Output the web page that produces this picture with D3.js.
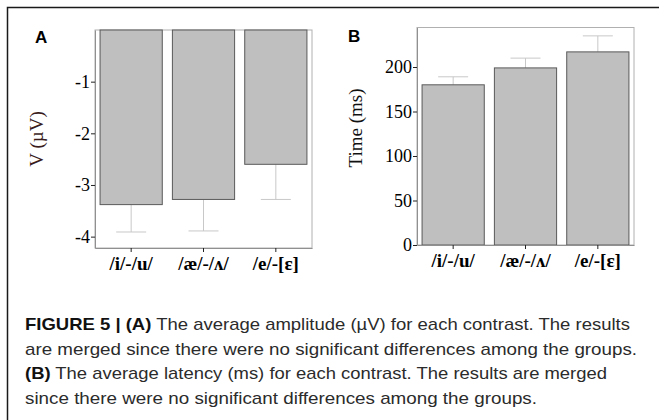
<!DOCTYPE html>
<html><head><meta charset="utf-8">
<script src="https://cdn.jsdelivr.net/npm/d3@7"></script>
<style>
html,body{margin:0;padding:0;background:#fff;}
svg{display:block;}
</style></head>
<body><svg id="c" width="659" height="420"></svg>
<script>
const categories = ["/i/-/u/", "/æ/-/ʌ/", "/e/-[ɛ]"];
const amplitude = [-3.38, -3.28, -2.60];
const amplitudeErr = [-3.91, -3.89, -3.28];
const latency = [180, 199, 217];
const latencyErr = [189, 210, 235];
const ampTicks = [-1, -2, -3, -4];
const latTicks = [0, 50, 100, 150, 200];
const captionLines = [
  [["FIGURE 5 | (A)", true], [" The average amplitude (\u00b5V) for each contrast. The results", false]],
  [["are merged since there were no significant differences among the groups.", false]],
  [["(B)", true], [" The average latency (ms) for each contrast. The results are merged", false]],
  [["since there were no significant differences among the groups.", false]]
];

const svg = d3.select("#c");
// outer figure border (left & top)
svg.append("path").attr("d", "M7.5,420 V7.5 H659").attr("fill","none").attr("stroke","#1a1a1a").attr("stroke-width",1.5);

function panel(opts){
  const g = svg.append("g");
  const x = d3.scaleBand().domain(categories).range([opts.x0, opts.x1]).paddingInner(0.14).paddingOuter(0.07);
  const y = d3.scaleLinear().domain(opts.domain).range(opts.range);
  const yt = Math.min(...opts.range), yb = Math.max(...opts.range);
  // frame
  g.append("rect").attr("x", opts.x0).attr("y", yt).attr("width", opts.x1-opts.x0).attr("height", yb-yt)
    .attr("fill","none").attr("stroke","#b0b0b0").attr("stroke-width",1);
  // error bars
  const eb = g.append("g").attr("stroke","#c8c8c8").attr("stroke-width",1);
  opts.values.forEach((v,i)=>{
    const cx = x(categories[i]) + x.bandwidth()/2;
    eb.append("line").attr("x1",cx).attr("x2",cx).attr("y1",y(v)).attr("y2",y(opts.errs[i]));
    eb.append("line").attr("x1",cx-15).attr("x2",cx+15).attr("y1",y(opts.errs[i])).attr("y2",y(opts.errs[i]));
  });
  // bars
  g.selectAll("rect.bar").data(opts.values).enter().append("rect").attr("class","bar")
    .attr("x",(d,i)=>x(categories[i])).attr("width",x.bandwidth())
    .attr("y",d=>Math.min(y(d),y(0))).attr("height",d=>Math.abs(y(d)-y(0)))
    .attr("fill","#bfbfbf").attr("stroke","#5a5a5a").attr("stroke-width",1);
  // axes
  const ya = g.append("g").attr("transform",`translate(${opts.x0},0)`)
    .call(d3.axisLeft(y).tickValues(opts.ticks).tickSize(4).tickPadding(1).tickSizeOuter(0).tickFormat(d=>String(d)));
  ya.select(".domain").attr("stroke","#909090");
  ya.selectAll(".tick line").attr("stroke","#222");
  ya.selectAll("text").attr("font-family","'Liberation Serif', serif").attr("font-size",18).attr("fill","#000");
  const xa = g.append("g").attr("transform",`translate(0,${yb})`)
    .call(d3.axisBottom(x).tickSize(4).tickSizeOuter(0).tickPadding(5));
  xa.select(".domain").attr("stroke","#909090");
  xa.selectAll(".tick line").attr("stroke","#222");
  xa.selectAll("text").attr("font-family","'Liberation Serif', serif").attr("font-size",19).attr("font-weight","bold").attr("fill","#000");
  // y title
  g.append("text").attr("transform",`translate(${opts.ytx},${opts.yty}) rotate(-90)`).attr("text-anchor","middle")
    .attr("font-family","'Liberation Serif', serif").attr("font-size",19).attr("fill",opts.ycol).text(opts.ytitle);
  // panel letter
  g.append("text").attr("x",opts.lx).attr("y",opts.ly).attr("font-family","'Liberation Sans', Arial, sans-serif")
    .attr("font-weight","bold").attr("font-size",17).attr("fill","#000").text(opts.letter);
}

panel({x0:95, x1:312, range:[30,248], domain:[0,-4.22], values:amplitude, errs:amplitudeErr, ticks:ampTicks,
  ytitle:"V (\u00b5V)", ytx:43, yty:139, ycol:"#3a1c1c", letter:"A", lx:35, ly:43});
panel({x0:417, x1:634, range:[245,27.5], domain:[0,244.4], values:latency, errs:latencyErr, ticks:latTicks,
  ytitle:"Time (ms)", ytx:362, yty:128, ycol:"#111", letter:"B", lx:348, ly:42});

// caption
const capX = 25, capY0 = 330, capDy = 24.7;
const capEnds = [630, 637, 607, 537];
captionLines.forEach((parts,i)=>{
  const t = svg.append("text").attr("x",capX).attr("y",capY0+i*capDy)
    .attr("font-family","'Liberation Sans', Arial, sans-serif").attr("font-size",17).attr("fill","#2b2b2b")
    .attr("textLength", capEnds[i]-capX).attr("lengthAdjust","spacingAndGlyphs");
  parts.forEach(p=>{
    t.append("tspan").attr("font-weight", p[1] ? "bold" : "normal").attr("fill", p[1] ? "#111" : "#2b2b2b").text(p[0]);
  });
});
</script></body></html>
